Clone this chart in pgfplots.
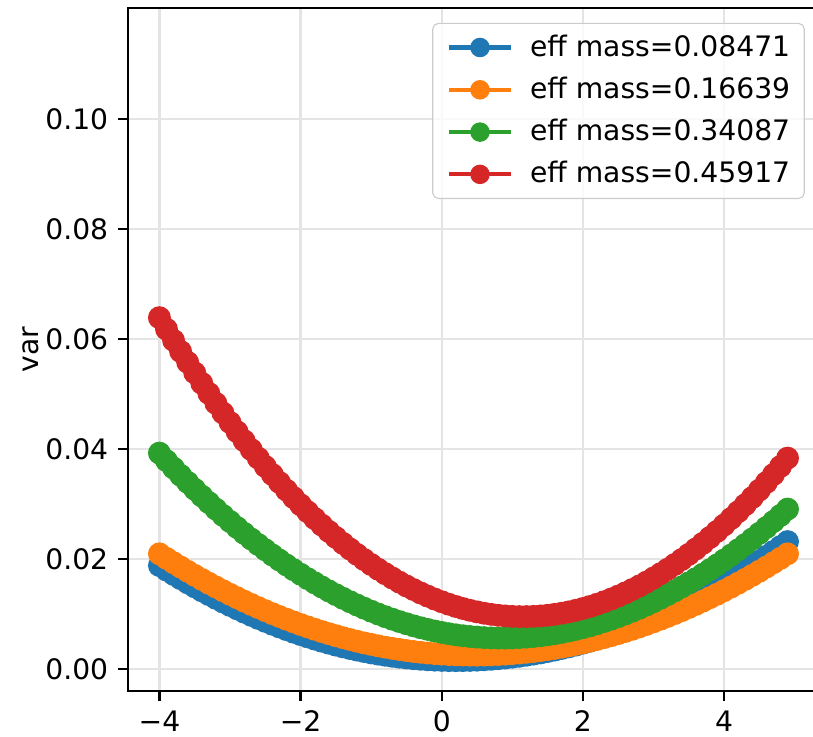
\documentclass[border=0pt]{standalone}
\usepackage{fontspec}
\setmainfont{DejaVu Sans}
\usepackage{pgfplots}
\pgfplotsset{compat=1.18}
\usepackage{pgfplotstable}

\definecolor{c0}{HTML}{1F77B4}
\definecolor{c1}{HTML}{FF7F0E}
\definecolor{c2}{HTML}{2CA02C}
\definecolor{c3}{HTML}{D62728}
\definecolor{gridc}{RGB}{228,228,228}

% x, then var for each effective mass
\pgfplotstableread{
x     b        o        g        r
-4.0  0.01879  0.02092  0.03924  0.06387
-3.9  0.01797  0.02010  0.03786  0.06178
-3.8  0.01718  0.01930  0.03652  0.05973
-3.7  0.01641  0.01852  0.03520  0.05772
-3.6  0.01565  0.01775  0.03392  0.05575
-3.5  0.01492  0.01701  0.03266  0.05383
-3.4  0.01420  0.01628  0.03143  0.05194
-3.3  0.01351  0.01558  0.03023  0.05010
-3.2  0.01283  0.01489  0.02906  0.04829
-3.1  0.01217  0.01422  0.02791  0.04653
-3.0  0.01154  0.01357  0.02680  0.04481
-2.9  0.01092  0.01294  0.02571  0.04313
-2.8  0.01032  0.01232  0.02465  0.04149
-2.7  0.00974  0.01173  0.02362  0.03989
-2.6  0.00918  0.01115  0.02262  0.03833
-2.5  0.00864  0.01059  0.02165  0.03681
-2.4  0.00812  0.01005  0.02070  0.03534
-2.3  0.00763  0.00953  0.01979  0.03390
-2.2  0.00714  0.00903  0.01890  0.03251
-2.1  0.00668  0.00855  0.01804  0.03115
-2.0  0.00624  0.00808  0.01722  0.02984
-1.9  0.00582  0.00764  0.01641  0.02857
-1.8  0.00542  0.00721  0.01564  0.02734
-1.7  0.00504  0.00680  0.01490  0.02615
-1.6  0.00468  0.00641  0.01418  0.02500
-1.5  0.00433  0.00604  0.01350  0.02390
-1.4  0.00401  0.00568  0.01284  0.02283
-1.3  0.00371  0.00535  0.01221  0.02181
-1.2  0.00342  0.00503  0.01161  0.02082
-1.1  0.00316  0.00473  0.01104  0.01988
-1.0  0.00291  0.00446  0.01049  0.01898
-0.9  0.00269  0.00419  0.00998  0.01812
-0.8  0.00248  0.00395  0.00949  0.01730
-0.7  0.00229  0.00373  0.00904  0.01652
-0.6  0.00213  0.00353  0.00861  0.01578
-0.5  0.00198  0.00334  0.00821  0.01508
-0.4  0.00185  0.00317  0.00783  0.01443
-0.3  0.00175  0.00302  0.00749  0.01381
-0.2  0.00166  0.00289  0.00718  0.01324
-0.1  0.00159  0.00278  0.00689  0.01270
 0.0  0.00154  0.00269  0.00663  0.01221
 0.1  0.00151  0.00261  0.00640  0.01176
 0.2  0.00150  0.00256  0.00620  0.01135
 0.3  0.00151  0.00252  0.00603  0.01098
 0.4  0.00154  0.00250  0.00589  0.01065
 0.5  0.00159  0.00250  0.00578  0.01037
 0.6  0.00166  0.00252  0.00569  0.01012
 0.7  0.00175  0.00256  0.00563  0.00992
 0.8  0.00185  0.00261  0.00560  0.00975
 0.9  0.00198  0.00269  0.00560  0.00963
 1.0  0.00213  0.00278  0.00563  0.00955
 1.1  0.00229  0.00289  0.00569  0.00951
 1.2  0.00248  0.00302  0.00578  0.00951
 1.3  0.00269  0.00317  0.00589  0.00955
 1.4  0.00291  0.00334  0.00603  0.00963
 1.5  0.00316  0.00353  0.00620  0.00975
 1.6  0.00342  0.00373  0.00640  0.00992
 1.7  0.00371  0.00395  0.00663  0.01012
 1.8  0.00401  0.00419  0.00689  0.01037
 1.9  0.00433  0.00446  0.00718  0.01065
 2.0  0.00468  0.00473  0.00749  0.01098
 2.1  0.00504  0.00503  0.00783  0.01135
 2.2  0.00542  0.00535  0.00821  0.01176
 2.3  0.00582  0.00568  0.00861  0.01221
 2.4  0.00624  0.00604  0.00904  0.01270
 2.5  0.00668  0.00641  0.00949  0.01324
 2.6  0.00714  0.00680  0.00998  0.01381
 2.7  0.00763  0.00721  0.01049  0.01443
 2.8  0.00812  0.00764  0.01104  0.01508
 2.9  0.00864  0.00808  0.01161  0.01578
 3.0  0.00918  0.00855  0.01221  0.01652
 3.1  0.00974  0.00903  0.01284  0.01730
 3.2  0.01032  0.00953  0.01350  0.01812
 3.3  0.01092  0.01005  0.01418  0.01898
 3.4  0.01154  0.01059  0.01490  0.01988
 3.5  0.01217  0.01115  0.01564  0.02082
 3.6  0.01283  0.01173  0.01641  0.02181
 3.7  0.01351  0.01232  0.01722  0.02283
 3.8  0.01420  0.01294  0.01804  0.02390
 3.9  0.01492  0.01357  0.01890  0.02500
 4.0  0.01565  0.01422  0.01979  0.02615
 4.1  0.01641  0.01489  0.02070  0.02734
 4.2  0.01718  0.01558  0.02165  0.02857
 4.3  0.01797  0.01628  0.02262  0.02984
 4.4  0.01879  0.01701  0.02362  0.03115
 4.5  0.01962  0.01775  0.02465  0.03251
 4.6  0.02047  0.01852  0.02571  0.03390
 4.7  0.02135  0.01930  0.02680  0.03534
 4.8  0.02224  0.02010  0.02791  0.03681
 4.9  0.02315  0.02092  0.02906  0.03833
}\vardata

\begin{document}
\begin{tikzpicture}
\begin{axis}[
    scale only axis,
    width=245.0pt, height=242.2pt,
    xmin=-4.445, xmax=5.345,
    ymin=-0.004, ymax=0.1202,
    xtick={-4,-2,0,2,4},
    xticklabels={−4,−2,0,2,4},
    ytick={0,0.02,0.04,0.06,0.08,0.10},
    yticklabels={0.00,0.02,0.04,0.06,0.08,0.10},
    tick align=outside,
    tick pos=left,
    major tick length=3.5pt,
    tick style={black, line width=0.8pt},
    axis line style={black, line width=0.8pt},
    grid=major,
    major grid style={line width=0.8pt, draw=gridc},
    ylabel={var},
    ylabel shift=-4.6pt,
    every axis plot/.append style={line width=1.5pt, mark=*, mark size=3.3pt},
    legend cell align=left,
    legend image code/.code={
        \path (-2pt,0pt) (26pt,0pt);
        \draw[#1, line width=1.5pt, draw opacity=1] (0pt,0pt) -- (22pt,0pt);
        \fill[#1, fill opacity=1] (11pt,0pt) circle (2.7pt);
    },
    legend style={
        at={(1,1)}, anchor=north east,
        xshift=-5pt, yshift=-5.3pt,
        draw=gray!40, rounded corners=2pt,
        fill=white, fill opacity=0.8, text opacity=1,
        row sep=1.9pt,
    },
]
\addplot[c0, mark options={fill=c0, draw=c0}] table[x=x, y=b] {\vardata};
\addlegendentry{eff mass=0.08471}
\addplot[c1, mark options={fill=c1, draw=c1}] table[x=x, y=o] {\vardata};
\addlegendentry{eff mass=0.16639}
\addplot[c2, mark options={fill=c2, draw=c2}] table[x=x, y=g] {\vardata};
\addlegendentry{eff mass=0.34087}
\addplot[c3, mark options={fill=c3, draw=c3}] table[x=x, y=r] {\vardata};
\addlegendentry{eff mass=0.45917}
\end{axis}
\draw[black, line width=0.8pt] (current axis.north west) -- ([xshift=243pt]current axis.north west);
\pgfresetboundingbox
\path[use as bounding box] ([xshift=-45.4pt, yshift=-16.3pt]current axis.south west)
    rectangle ([xshift=242.9pt, yshift=2.8pt]current axis.north west);
\end{tikzpicture}
\end{document}
